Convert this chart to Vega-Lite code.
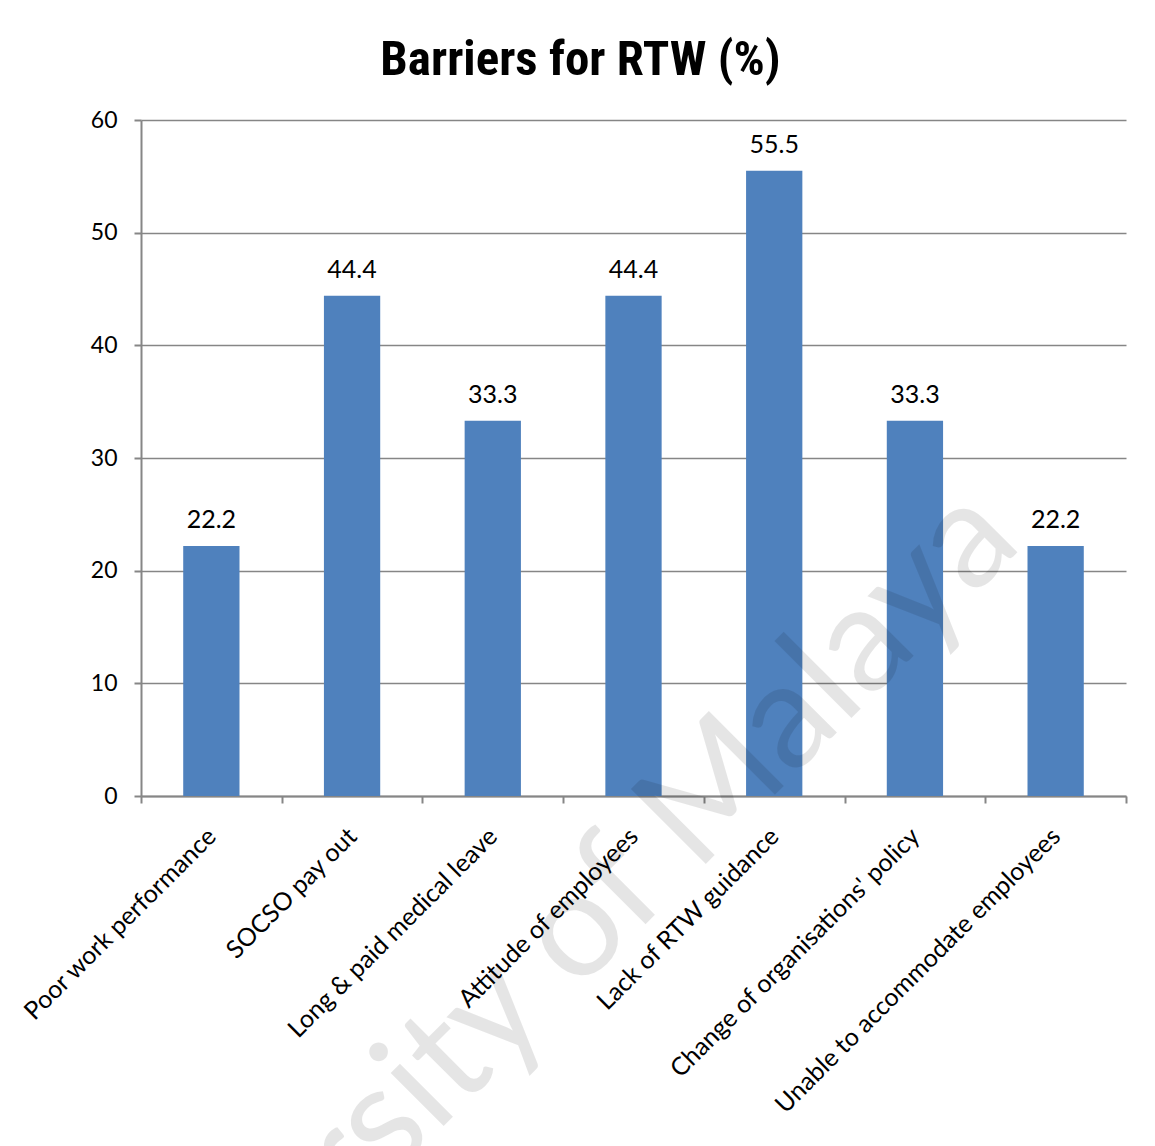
{
  "$schema": "https://vega.github.io/schema/vega-lite/v6.json",
  "autosize": "none",
  "width": 985,
  "height": 676,
  "padding": {"left": 141, "top": 120, "right": 29, "bottom": 350},
  "background": "white",
  "title": {
    "text": "Barriers for RTW (%)",
    "font": "Liberation Sans Narrow, Arial Narrow, Roboto Condensed, Liberation Sans",
    "fontSize": 49,
    "fontWeight": "bold",
    "color": "black",
    "anchor": "middle",
    "frame": "group",
    "baseline": "alphabetic",
    "offset": 45,
    "dx": -53,
    "dy": 60
  },
  "config": {
    "view": {"stroke": null},
    "font": "Lato",
    "axis": {
      "labelFont": "Lato",
      "labelColor": "black",
      "domainColor": "#868686",
      "domainWidth": 2,
      "tickColor": "#868686",
      "tickWidth": 2,
      "tickSize": 7,
      "gridColor": "#868686",
      "gridWidth": 1.5,
      "title": null
    }
  },
  "data": {
    "values": [
      {"barrier": "Poor work performance", "percent": 22.2},
      {"barrier": "SOCSO pay out", "percent": 44.4},
      {"barrier": "Long & paid medical leave", "percent": 33.3},
      {"barrier": "Attitude of employees", "percent": 44.4},
      {"barrier": "Lack of RTW guidance", "percent": 55.5},
      {"barrier": "Change of organisations' policy", "percent": 33.3},
      {"barrier": "Unable to accommodate employees", "percent": 22.2}
    ]
  },
  "encoding": {
    "x": {
      "field": "barrier",
      "type": "nominal",
      "sort": null,
      "scale": {"paddingInner": 0, "paddingOuter": 0},
      "axis": {
        "labelAngle": -45,
        "labelFontSize": 25,
        "labelPadding": 29,
        "labelBaseline": "middle",
        "labelAlign": "right",
        "labelLimit": 0,
        "tickBand": "extent",
        "grid": false
      }
    },
    "y": {
      "field": "percent",
      "type": "quantitative",
      "scale": {"domain": [0, 60], "nice": false},
      "axis": {
        "values": [0, 10, 20, 30, 40, 50, 60],
        "labelFontSize": 23,
        "labelPadding": 17,
        "grid": true
      }
    }
  },
  "layer": [
    {
      "mark": {"type": "bar", "color": "#4F81BD", "width": {"band": 0.4}}
    },
    {
      "mark": {"type": "text", "baseline": "alphabetic", "dy": -18, "fontSize": 25, "color": "black"},
      "encoding": {"text": {"field": "percent", "type": "quantitative", "format": ".1f"}}
    },
    {
      "data": {"values": [{"watermark": "University of Malaya", "spot": "Long & paid medical leave", "level": -19.4}]},
      "mark": {
        "type": "text",
        "angle": 315,
        "align": "center",
        "baseline": "middle",
        "dx": 44,
        "fontSize": 148,
        "font": "Lato",
        "fill": "#000000",
        "fillOpacity": 0.1
      },
      "encoding": {
        "x": {"field": "spot", "type": "nominal"},
        "y": {"field": "level", "type": "quantitative"},
        "text": {"field": "watermark", "type": "nominal"}
      }
    }
  ]
}
